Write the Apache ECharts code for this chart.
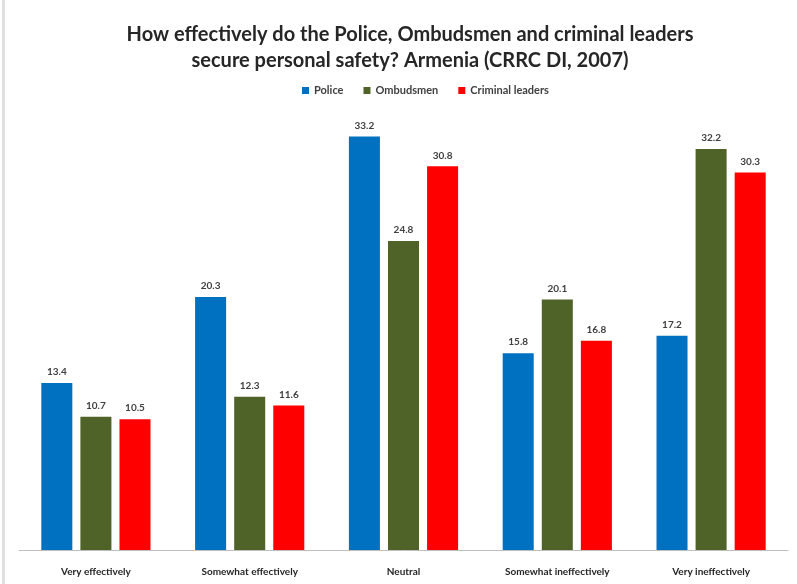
<!DOCTYPE html>
<html><head><meta charset="utf-8">
<script src="https://cdn.jsdelivr.net/npm/echarts@6/dist/echarts.min.js"></script>
<style>html,body{margin:0;padding:0;background:#fff}#c{width:797px;height:584px}</style>
</head><body><div id="c"></div>
<script>
const categories = ["Very effectively", "Somewhat effectively", "Neutral", "Somewhat ineffectively", "Very ineffectively"];
const police = [13.4, 20.3, 33.2, 15.8, 17.2];
const ombudsmen = [10.7, 12.3, 24.8, 20.1, 32.2];
const criminal = [10.5, 11.6, 30.8, 16.8, 30.3];
const seriesNames = ["Police", "Ombudsmen", "Criminal leaders"];
const colors = ["#0070C0", "#4F6228", "#FF0000"];

const chart = echarts.init(document.getElementById('c'), null, {renderer: 'canvas'});
const labelStyle = {show: true, position: 'top', fontFamily: 'Lato', fontWeight: 'bold', fontSize: 10, color: '#404040', distance: 6};
chart.setOption({
  animation: false,
  title: {
    text: 'How effectively do the Police, Ombudsmen and criminal leaders\nsecure personal safety? Armenia (CRRC DI, 2007)',
    left: 405, textAlign: 'center', top: 17,
    textStyle: {fontFamily: 'Lato', fontWeight: 'bold', fontSize: 20, color: '#262626', lineHeight: 26}
  },
  legend: {
    top: 80, left: 297, itemWidth: 7, itemHeight: 7, itemGap: 20,
    icon: 'rect',
    textStyle: {fontFamily: 'Lato', fontSize: 11, fontWeight: 'bold', color: '#404040'},
    data: seriesNames
  },
  grid: {left: 19, right: 9, top: 114, bottom: 34, containLabel: false},
  xAxis: {
    type: 'category', data: categories,
    axisLine: {lineStyle: {color: '#BFBFBF'}},
    axisTick: {show: false},
    axisLabel: {fontFamily: 'Lato', fontSize: 10, fontWeight: 'bold', color: '#262626', margin: 17, interval: 0}
  },
  yAxis: {type: 'value', min: 0, max: 35, show: false, splitLine: {show: false}},
  graphic: [{type: 'rect', shape: {x: 2, y: 0, width: 3, height: 584}, style: {fill: '#E0E0E0'}}],
  series: [
    {name: seriesNames[0], type: 'bar', data: police, itemStyle: {color: colors[0]}, label: labelStyle, barGap: '26%', barCategoryGap: '29%'},
    {name: seriesNames[1], type: 'bar', data: ombudsmen, itemStyle: {color: colors[1]}, label: labelStyle},
    {name: seriesNames[2], type: 'bar', data: criminal, itemStyle: {color: colors[2]}, label: labelStyle}
  ]
});
</script></body></html>
